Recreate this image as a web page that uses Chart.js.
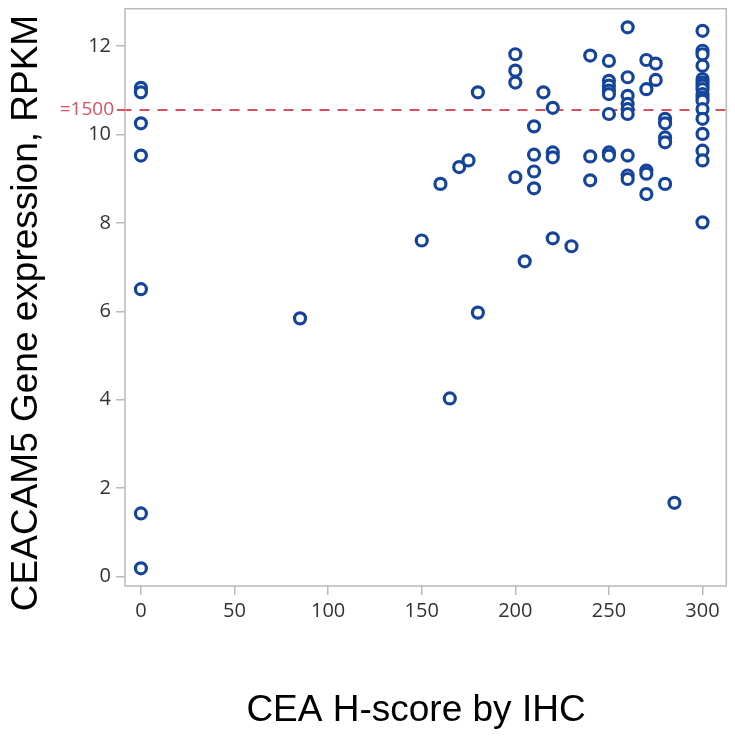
<!DOCTYPE html>
<html>
<head>
<meta charset="utf-8">
<script src="https://cdn.jsdelivr.net/npm/chart.js@4.4.1/dist/chart.umd.min.js"></script>
<style>
  html, body { margin: 0; padding: 0; background: #fff; }
  #wrap { width: 735px; height: 739px; position: relative; }
</style>
</head>
<body>
<div id="wrap"><canvas id="myChart"></canvas></div>
<script>
// CEA H-score (x) vs CEACAM5 log2 RPKM (y)
const hScores = [
  0, 0, 0, 0, 0, 0, 0,
  85, 150, 160, 165, 170, 175, 180, 180,
  200, 200, 200, 200, 205,
  210, 210, 210, 210, 215,
  220, 220, 220, 220, 230,
  240, 240, 240,
  250, 250, 250, 250, 250, 250, 250, 250,
  260, 260, 260, 260, 260, 260, 260, 260, 260,
  270, 270, 270, 270, 270, 275, 275,
  280, 280, 280, 280, 280, 285,
  300, 300, 300, 300, 300, 300, 300, 300, 300, 300, 300, 300, 300, 300, 300, 300, 300
];
const geneExpr = [
  11.05, 10.95, 10.25, 9.52, 6.5, 1.43, 0.19,
  5.84, 7.6, 8.88, 4.03, 9.26, 9.41, 10.95, 5.97,
  11.81, 11.44, 11.17, 9.03, 7.13,
  10.18, 9.54, 9.16, 8.78, 10.95,
  10.6, 9.59, 9.48, 7.65, 7.47,
  11.78, 9.5, 8.96,
  11.66, 11.21, 11.1, 10.99, 10.91, 10.46, 9.59, 9.52,
  12.42, 11.29, 10.87, 10.69, 10.57, 10.46, 9.52, 9.07, 8.99,
  11.68, 11.02, 9.18, 9.11, 8.65, 11.6, 11.23,
  10.35, 10.25, 9.93, 9.82, 8.88, 1.67,
  12.34, 11.89, 11.81, 11.55, 11.25, 11.17, 11.1, 11.02, 10.91, 10.83, 10.76, 10.57, 10.35, 10.01, 9.63, 9.41, 8.01
];
const xTicks = [0, 50, 100, 150, 200, 250, 300];
const yTicks = [0, 2, 4, 6, 8, 10, 12];
const cutoffValue = 10.55; // log2(1500)
const cutoffLabel = "=1500";
const xTitle = "CEA H-score by IHC";
const yTitle = "CEACAM5 Gene expression, RPKM";

const points = hScores.map((x, i) => ({ x: x, y: geneExpr[i] }));

const frameColor = "#b9b9b9";
const markColor = "#15459a";
const cutoffColor = "#d8505e";
const tickFont = { family: "'Open Sans', sans-serif", size: 20 };

// box, cutoff label and axis titles
const extras = {
  id: "extras",
  afterDraw(chart) {
    const ctx = chart.ctx;
    const a = chart.chartArea;
    const ys = chart.scales.y;
    ctx.save();
    ctx.strokeStyle = frameColor;
    ctx.lineWidth = 1.5;
    ctx.strokeRect(a.left, a.top, a.right - a.left, a.bottom - a.top);

    const yc = ys.getPixelForValue(cutoffValue);
    ctx.strokeStyle = cutoffColor;
    ctx.lineWidth = 2;
    ctx.beginPath();
    ctx.moveTo(a.left - 8, yc);
    ctx.lineTo(a.left, yc);
    ctx.stroke();
    ctx.fillStyle = cutoffColor;
    ctx.font = "19px 'Open Sans', sans-serif";
    ctx.textAlign = "right";
    ctx.textBaseline = "middle";
    ctx.fillText(cutoffLabel, a.left - 11, yc);

    ctx.fillStyle = "#000";
    ctx.font = "37px 'Liberation Sans', Arial, sans-serif";
    ctx.textAlign = "center";
    ctx.textBaseline = "alphabetic";
    ctx.fillText(xTitle, 416, 721);

    ctx.translate(37, 313);
    ctx.rotate(-Math.PI / 2);
    ctx.fillText(yTitle, 0, 0);
    ctx.restore();
  }
};

const ctx = document.getElementById("myChart").getContext("2d");
const myChart = new Chart(ctx, {
  type: "scatter",
  data: {
    datasets: [
      {
        label: "samples",
        data: points,
        pointRadius: 5.5,
        pointHoverRadius: 5.5,
        pointBorderWidth: 3.2,
        pointBorderColor: markColor,
        pointBackgroundColor: "#fff",
        order: 1,
      },
      {
        type: "line",
        label: "cutoff",
        data: [{ x: -20, y: cutoffValue }, { x: 330, y: cutoffValue }],
        borderColor: cutoffColor,
        borderWidth: 2,
        borderDash: [10, 8],
        pointRadius: 0,
        fill: false,
        order: 2,
      },
    ],
  },
  options: {
    responsive: true,
    maintainAspectRatio: false,
    animation: false,
    events: [],
    layout: { padding: { top: 6, right: 8, left: 0, bottom: 0 } },
    plugins: { legend: { display: false }, tooltip: { enabled: false } },
    scales: {
      x: {
        type: "linear",
        min: -8.5,
        max: 312.7,
        afterBuildTicks: (s) => { s.ticks = xTicks.map((v) => ({ value: v })); },
        afterFit: (s) => { s.height = 153; s.paddingLeft = 0; s.paddingRight = 0; },
        grid: { drawOnChartArea: false, tickLength: 9, color: frameColor, lineWidth: 1.5 },
        border: { display: false },
        ticks: { font: tickFont, color: "#333", padding: 4, maxRotation: 0 },
      },
      y: {
        type: "linear",
        min: -0.21,
        max: 12.84,
        afterBuildTicks: (s) => { s.ticks = yTicks.map((v) => ({ value: v })); },
        afterFit: (s) => { s.width = 125; s.paddingTop = 0; s.paddingBottom = 0; },
        grid: { drawOnChartArea: false, tickLength: 9, color: frameColor, lineWidth: 1.5 },
        border: { display: false },
        ticks: { font: tickFont, color: "#333", padding: 5 },
      },
    },
  },
  plugins: [extras],
});
</script>
</body>
</html>
